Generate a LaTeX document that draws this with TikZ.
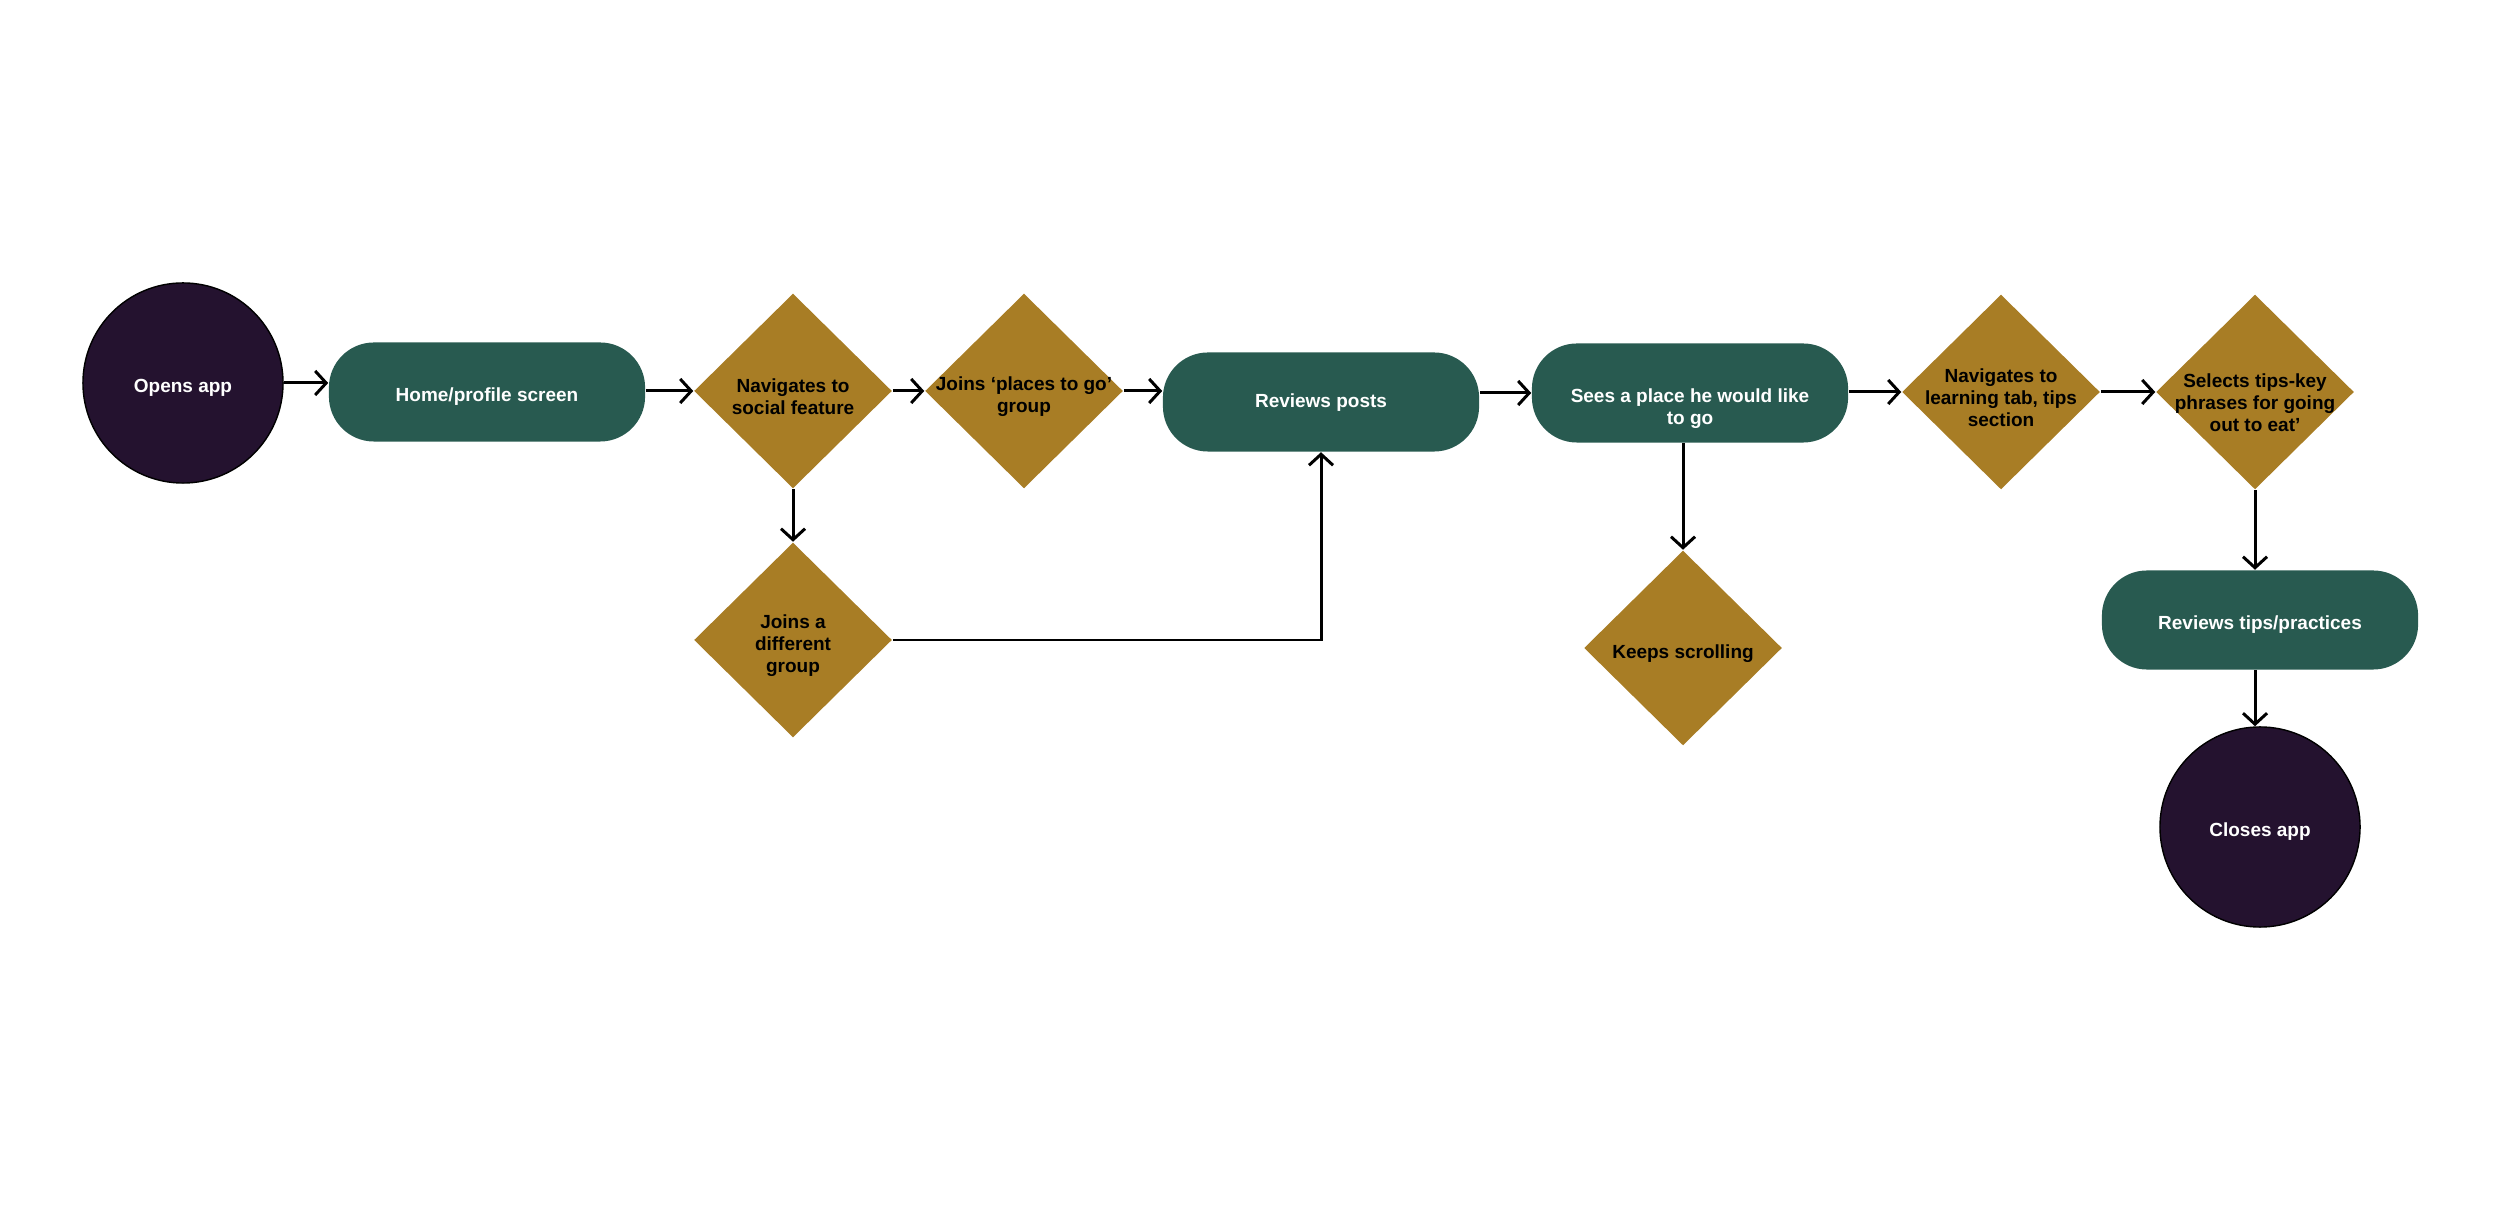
\documentclass[tikz,border=0pt]{standalone}
\usepackage{fontspec}
\setmainfont{Liberation Sans}
\usetikzlibrary{shapes.geometric,arrows.meta}
\definecolor{cpurple}{HTML}{24122F}
\definecolor{cgreen}{HTML}{285A50}
\definecolor{cgold}{HTML}{A87D25}
\begin{document}
\begin{tikzpicture}[x=0.01cm,y=-0.01cm,
  every node/.style={font=\fontsize{5.4pt}{6.3pt}\selectfont\bfseries, align=center},
  term/.style={circle, fill=cpurple, draw=black, line width=0.4pt, minimum size=2cm, inner sep=0pt},
  proc/.style={rectangle, rounded corners=4.5mm, fill=cgreen, minimum width=3.16cm, minimum height=0.99cm, inner sep=0pt},
  dec/.style={diamond, fill=cgold, minimum width=1.98cm, minimum height=1.95cm, inner sep=0pt},
  wtext/.style={text=white, inner sep=0pt, yshift=-0.5mm},
  dtext/.style={text=black, inner sep=0pt, yshift=-0.55mm},
  conn/.style={line width=0.85pt, -{Straight Barb[length=1.1mm,width=2.4mm]}}
]
\useasboundingbox (0,0) rectangle (2500,1210);

\node[term, label={[wtext]center:Opens app}] (open) at (183,383) {};
\node[proc, label={[wtext]center:Home/profile screen}] (home) at (487,392) {};
\node[dec, label={[dtext]center:Navigates to\\social feature}] (nav1) at (793,391) {};
\node[dec, label={[dtext]center:Joins ‘places to go’\\group}] (joins) at (1024,391) {};
\node[proc, label={[wtext, yshift=0.4mm]center:Reviews posts}] (rev) at (1321,402) {};
\node[proc, label={[wtext, yshift=-1.1mm]center:Sees a place he would like\\to go}] (sees) at (1690,393) {};
\node[dec, label={[dtext]center:Navigates to\\learning tab, tips\\section}] (nav2) at (2001,392) {};
\node[dec, label={[dtext, yshift=-0.5mm]center:Selects  tips-key\\phrases for going\\out to eat’}] (sel) at (2255,392) {};
\node[dec, label={[dtext]center:Joins a\\different\\group}] (diff) at (793,640) {};
\node[dec, label={[dtext]center:Keeps scrolling}] (keep) at (1683,648) {};
\node[proc, label={[wtext]center:Reviews tips/practices}] (revtips) at (2260,620) {};
\node[term, label={[wtext]center:Closes app}] (closes) at (2260,827) {};

\draw[conn] (open) -- (open -| home.west);
\draw[conn] (nav1.west -| home.east) -- (nav1.west);
\draw[conn] (nav1.east) -- (joins.west);
\draw[conn] (joins.east) -- (joins.east -| rev.west);
\draw[conn] (rev.east |- sees.west) -- (sees.west);
\draw[conn] (nav2.west -| sees.east) -- (nav2.west);
\draw[conn] (nav2.east) -- (sel.west);
\draw[conn] (nav1.south) -- (diff.north);
\draw[conn] (diff.east) -| (rev.south);
\draw[conn] (keep.north |- sees.south) -- (keep.north);
\draw[conn] (sel.south) -- (sel.south |- revtips.north);
\draw[conn] (sel.south |- revtips.south) -- (sel.south |- closes.north);
\end{tikzpicture}
\end{document}
